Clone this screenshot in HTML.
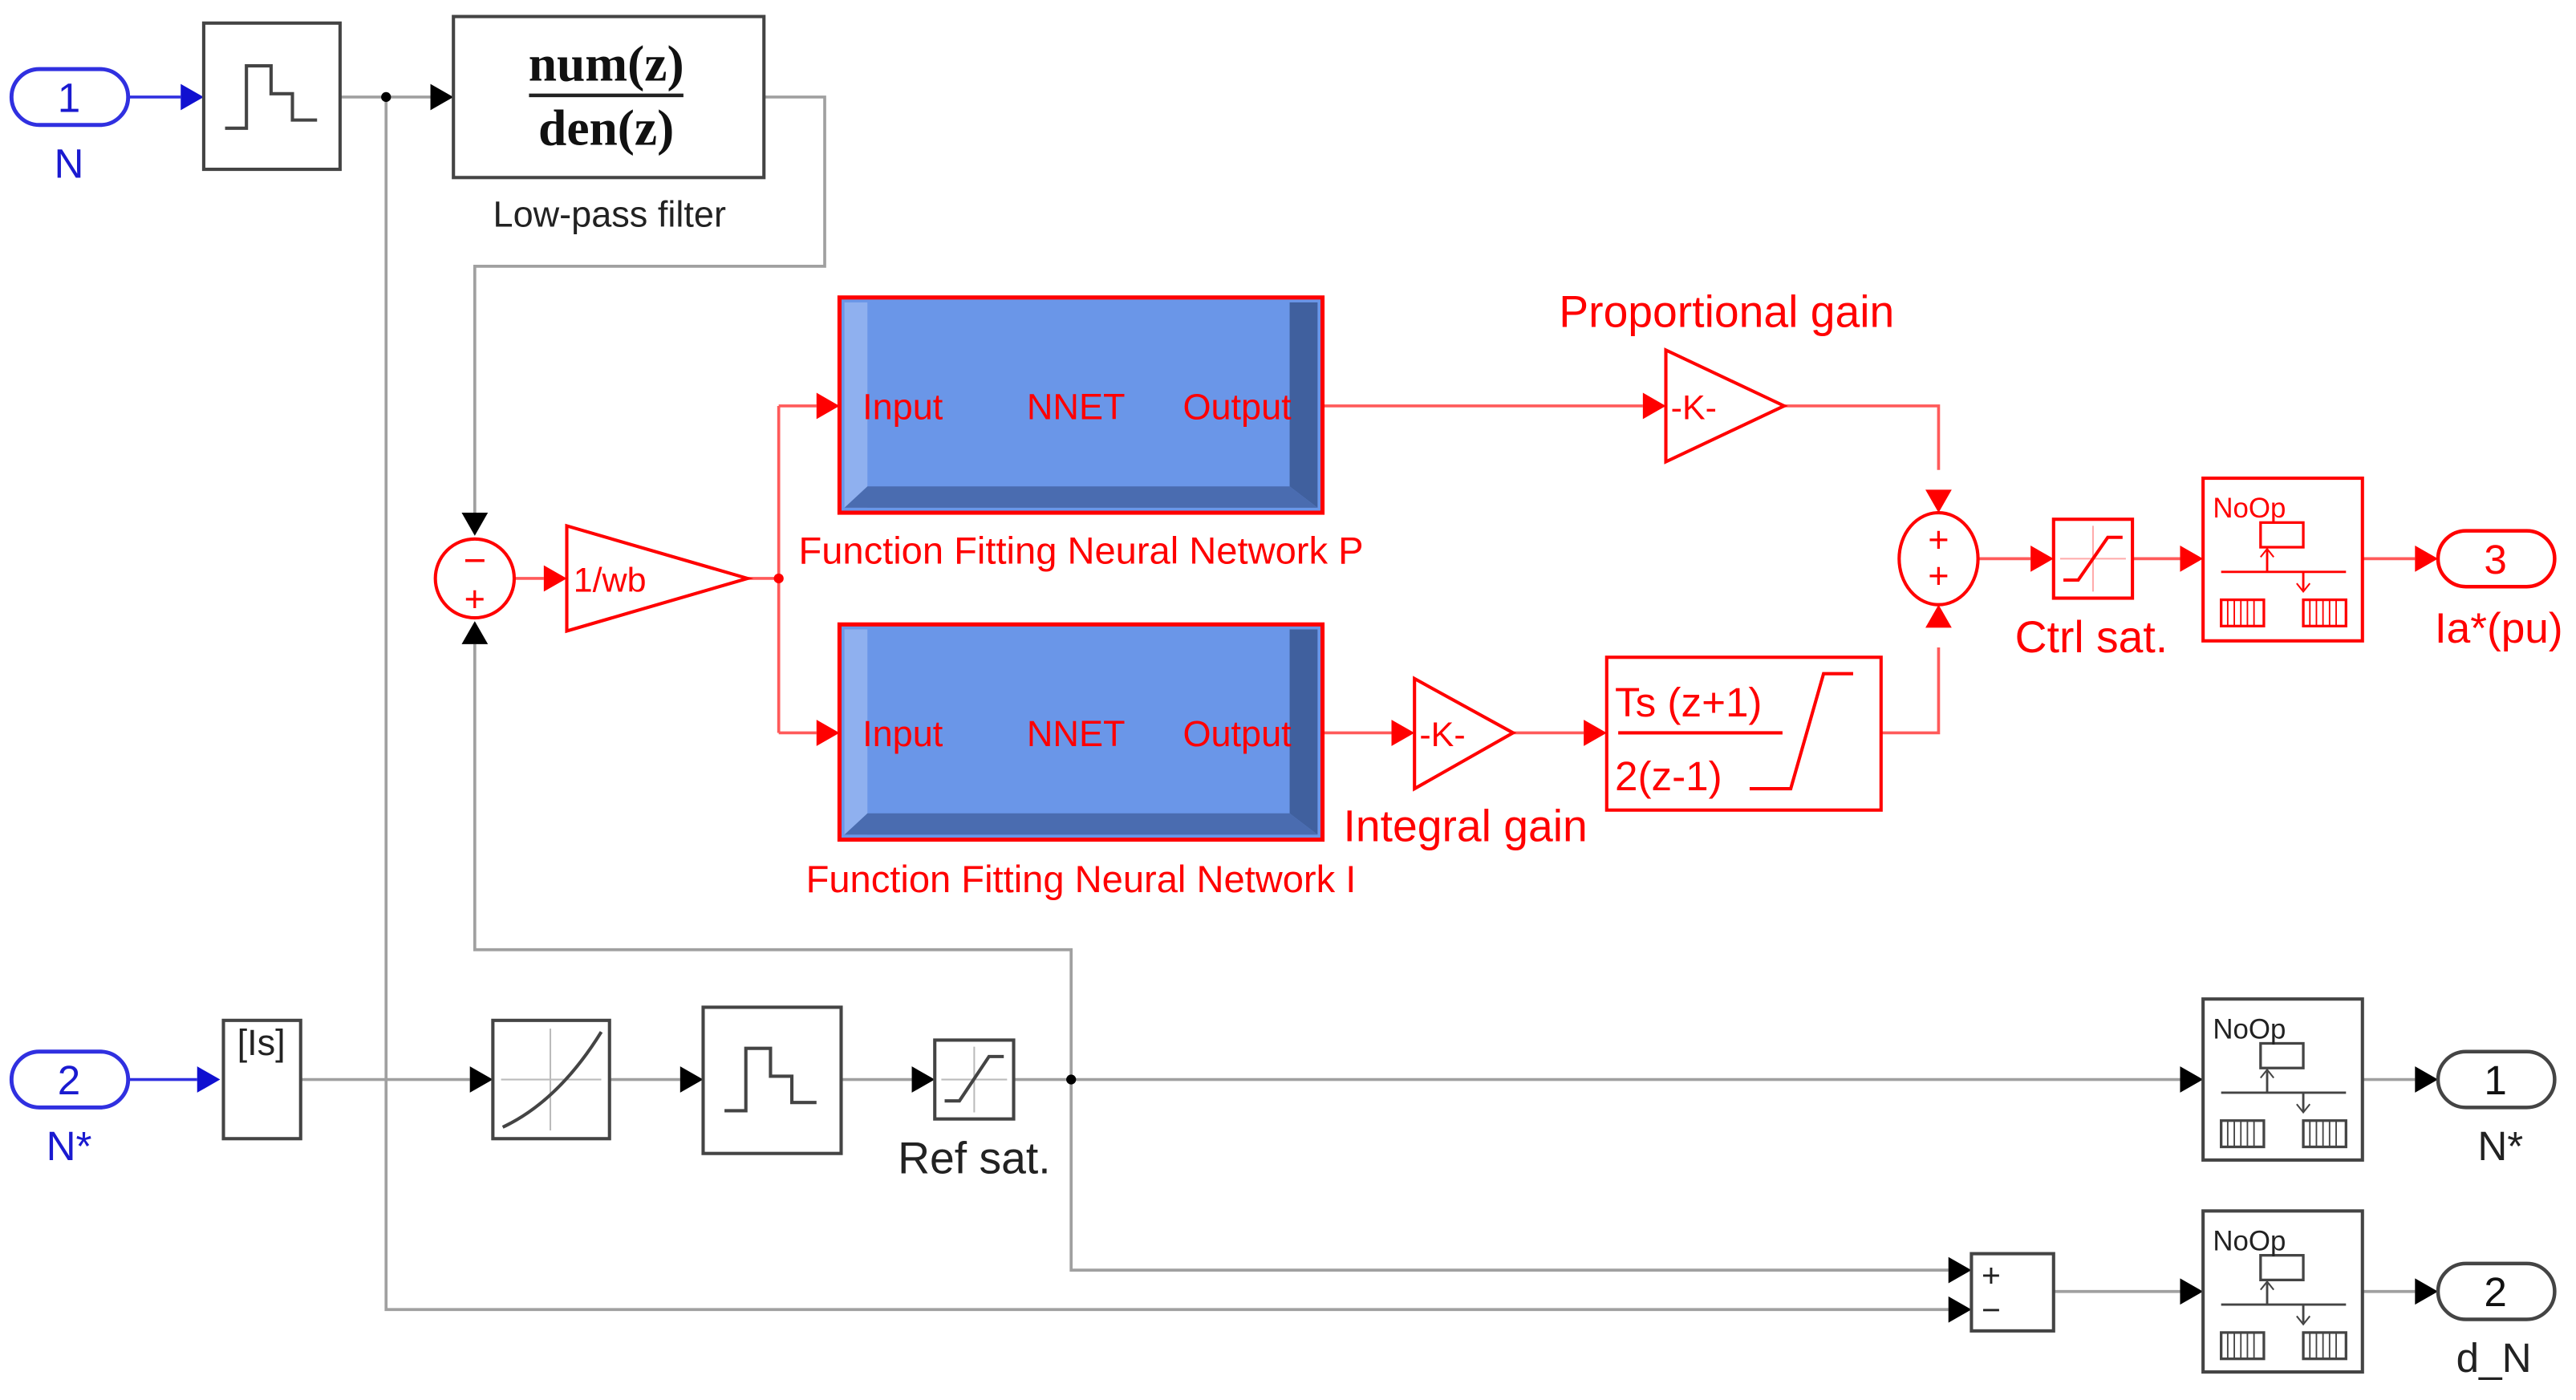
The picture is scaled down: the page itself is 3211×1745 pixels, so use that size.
<!DOCTYPE html>
<html><head><meta charset="utf-8"><style>html,body{margin:0;padding:0;background:#fff}svg{display:block}</style></head>
<body>
<svg width="3211" height="1745" viewBox="0 0 1568 852" xmlns="http://www.w3.org/2000/svg" font-family="Liberation Sans, sans-serif">
<rect width="1568" height="852" fill="#fff"/>
<g stroke="#a0a0a0" stroke-width="1.8" fill="none">
<path d="M207 59H262"/>
<path d="M465 59H502V162H289V313"/>
<path d="M235 59V797H1186"/>
<path d="M289 392V578H652V773H1186"/>
<path d="M183 657H286M371 657H414M512 657H555M617 657H1327"/>
<path d="M1250 786H1327M1438 657H1470M1438 786H1470"/>
</g>
<circle cx="235" cy="59" r="3" fill="#000"/>
<circle cx="652" cy="657" r="3" fill="#000"/>
<g fill="#000">
<polygon points="262,51 276,59 262,67"/>
<polygon points="281,312 297,312 289,326"/>
<polygon points="281,392 297,392 289,378"/>
<polygon points="286,649 300,657 286,665"/>
<polygon points="414,649 428,657 414,665"/>
<polygon points="555,649 569,657 555,665"/>
<polygon points="1327,649 1341,657 1327,665"/>
<polygon points="1186,765 1200,773 1186,781"/>
<polygon points="1186,789 1200,797 1186,805"/>
<polygon points="1327,778 1341,786 1327,794"/>
<polygon points="1470,649 1484,657 1470,665"/>
<polygon points="1470,778 1484,786 1470,794"/>
</g>
<g stroke="#3030e0" stroke-width="1.8" fill="none">
<rect x="7" y="42" width="71" height="34" rx="17" stroke-width="2.4"/>
<rect x="7" y="640" width="71" height="34" rx="17" stroke-width="2.4"/>
<path d="M78 59H110M78 657H120"/>
</g>
<g fill="#1010d0">
<polygon points="110,51 124,59 110,67"/>
<polygon points="120,649 134,657 120,665"/>
</g>
<g fill="#1a1ad0" font-size="25" text-anchor="middle">
<text x="42" y="68">1</text><text x="42" y="108">N</text>
<text x="42" y="666">2</text><text x="42" y="706">N*</text>
</g>
<g stroke="#444" stroke-width="2" fill="none">
<rect x="124" y="14" width="83" height="89"/>
<path d="M137 78H150V40H165V57H178V73H193"/>
<rect x="276" y="10" width="189" height="98"/>
<path d="M322 58H416" stroke="#222" stroke-width="2.2"/>
<rect x="136" y="621" width="47" height="72"/>
<rect x="300" y="621" width="71" height="72"/>
<path d="M335 626V688M305 657H366" stroke="#bbb" stroke-width="1"/>
<path d="M306 686Q340 670 366 628"/>
<rect x="428" y="613" width="84" height="89"/>
<path d="M441 676H454V638H469V655H482V671H497"/>
<rect x="569" y="633" width="48" height="48"/>
<path d="M593 637V677M573 657H613" stroke="#bbb" stroke-width="1"/>
<path d="M575 670H584L602 643H611"/>
<rect x="1200" y="763" width="50" height="47"/>
<rect x="1341" y="608" width="97" height="98"/>
<rect x="1341" y="737" width="97" height="98"/>
</g>
<g font-family="Liberation Serif, serif" font-size="31" font-weight="bold" text-anchor="middle" fill="#111">
<text x="369" y="49">num(z)</text><text x="369" y="88">den(z)</text>
</g>
<g font-size="22" fill="#222" text-anchor="middle">
<text x="371" y="138">Low-pass filter</text>
<text x="159" y="642">[Is]</text>
<text x="1212" y="783" font-size="20">+</text>
<text x="1212" y="804" font-size="20">−</text>
<text x="593" y="714" font-size="27">Ref sat.</text>
<text x="1522" y="706" font-size="25">N*</text>
<text x="1518" y="835" font-size="25">d_N</text>
</g>
<g stroke="#444" stroke-width="1.8" fill="none">
<rect x="1484" y="640" width="71" height="34" rx="17" stroke-width="2.2"/>
<rect x="1484" y="769" width="71" height="34" rx="17" stroke-width="2.2"/>
</g>
<g font-size="25" fill="#111" text-anchor="middle">
<text x="1519" y="666">1</text><text x="1519" y="795">2</text>
</g>
<defs>
<g id="noop" fill="none" stroke-width="1.6">
<rect x="35" y="27" width="26" height="15"/>
<path d="M11 57H87M39 44V57M61 57V68" stroke-width="1.4"/>
<path d="M35 48L39 43L43 48M57 64L61 69L65 64" stroke-width="1"/>
<rect x="11" y="74" width="26" height="16"/><rect x="61" y="74" width="26" height="16"/>
<path d="M15 74V90M19 74V90M23 74V90M27 74V90M31 74V90M65 74V90M69 74V90M73 74V90M77 74V90M81 74V90" stroke-width="0.9"/>
</g>
</defs>
<g stroke="#444"><use href="#noop" x="1341" y="608"/><use href="#noop" x="1341" y="737"/></g>
<g font-size="17" fill="#222"><text x="1347" y="632">NoOp</text><text x="1347" y="761">NoOp</text></g>
<g stroke="#ff5a5a" stroke-width="1.8" fill="none">
<path d="M313 352H331M455 352H474M474 247V446M474 247H497M474 446H497"/>
<path d="M805 247H1000M1086 247H1180V286"/>
<path d="M805 446H847M921 446H964M1145 446H1180V394"/>
<path d="M1204 340H1236M1298 340H1327M1438 340H1470"/>
</g>
<circle cx="474" cy="352" r="3" fill="#f00"/>
<g fill="#f00">
<polygon points="331,344 345,352 331,360"/>
<polygon points="497,239 511,247 497,255"/>
<polygon points="497,438 511,446 497,454"/>
<polygon points="1000,239 1014,247 1000,255"/>
<polygon points="847,438 861,446 847,454"/>
<polygon points="964,438 978,446 964,454"/>
<polygon points="1172,298 1188,298 1180,312"/>
<polygon points="1172,382 1188,382 1180,368"/>
<polygon points="1236,332 1250,340 1236,348"/>
<polygon points="1327,332 1341,340 1327,348"/>
<polygon points="1470,332 1484,340 1470,348"/>
</g>
<g stroke="#f00" stroke-width="2" fill="none">
<circle cx="289" cy="352" r="24"/>
<ellipse cx="1180" cy="340" rx="24" ry="28"/>
<polygon points="345,320 345,384 455,352"/>
<polygon points="1014,213 1014,281 1086,247"/>
<polygon points="861,413 861,480 921,446"/>
<rect x="978" y="400" width="167" height="93"/>
<path d="M985 446H1085M1065 480H1090L1110 410H1128"/>
<rect x="1250" y="316" width="48" height="48"/>
<path d="M1274 320V360M1254 340H1294" stroke="#ffaaaa" stroke-width="1"/>
<path d="M1256 353H1265L1283 327H1292"/>
<rect x="1341" y="291" width="97" height="99"/>
<rect x="1484" y="323" width="71" height="34" rx="17" stroke-width="2.2"/>
</g>
<g stroke="#f00"><use href="#noop" x="1341" y="291"/></g>
<g>
<rect x="511" y="181" width="294" height="131" fill="#6a96e8" stroke="#f00" stroke-width="2.5"/>
<rect x="514" y="184" width="14" height="125" fill="#8fb0ef"/>
<polygon points="785,184 802,184 802,309 785,296" fill="#40609e"/>
<polygon points="528,296 785,296 802,309 514,309" fill="#4a6cb0"/>
<rect x="511" y="380" width="294" height="131" fill="#6a96e8" stroke="#f00" stroke-width="2.5"/>
<rect x="514" y="383" width="14" height="125" fill="#8fb0ef"/>
<polygon points="785,383 802,383 802,508 785,495" fill="#40609e"/>
<polygon points="528,495 785,495 802,508 514,508" fill="#4a6cb0"/>
</g>
<g fill="#f00" font-size="22">
<text x="525" y="255">Input</text><text x="625" y="255">NNET</text><text x="720" y="255">Output</text>
<text x="525" y="454">Input</text><text x="625" y="454">NNET</text><text x="720" y="454">Output</text>
<text x="289" y="349" font-size="24" text-anchor="middle">−</text>
<text x="289" y="372" font-size="22" text-anchor="middle">+</text>
<text x="1180" y="336" font-size="22" text-anchor="middle">+</text>
<text x="1180" y="358" font-size="22" text-anchor="middle">+</text>
<text x="349" y="360" font-size="21">1/wb</text>
<text x="1017" y="255" font-size="21">-K-</text>
<text x="864" y="454" font-size="21">-K-</text>
<text x="983" y="436" font-size="25">Ts (z+1)</text>
<text x="983" y="481" font-size="25">2(z-1)</text>
<text x="658" y="343" font-size="23" text-anchor="middle">Function Fitting Neural Network P</text>
<text x="658" y="543" font-size="23" text-anchor="middle">Function Fitting Neural Network I</text>
<text x="1051" y="199" font-size="27" text-anchor="middle">Proportional gain</text>
<text x="892" y="512" font-size="27" text-anchor="middle">Integral gain</text>
<text x="1273" y="397" font-size="27" text-anchor="middle">Ctrl sat.</text>
<text x="1521" y="391" font-size="26" text-anchor="middle">Ia*(pu)</text>
<text x="1519" y="349" font-size="25" text-anchor="middle">3</text>
<text x="1347" y="315" font-size="17">NoOp</text>
</g>
</svg>
</body></html>
